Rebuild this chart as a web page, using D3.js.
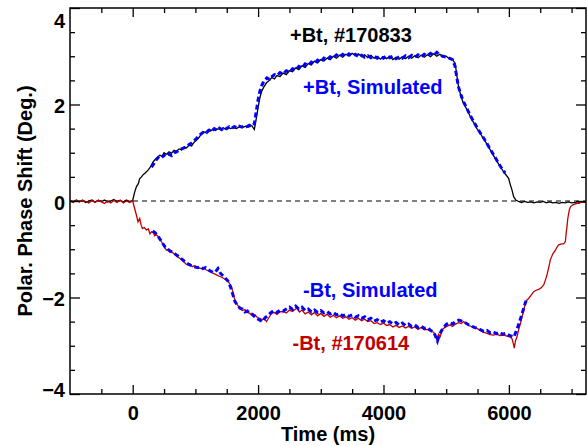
<!DOCTYPE html>
<html>
<head>
<meta charset="utf-8">
<script src="https://cdn.jsdelivr.net/npm/d3@7"></script>
<style>
  body { margin: 0; background: #fff; }
  text { font-family: "Liberation Sans", Arial, Helvetica, sans-serif; font-weight: bold; }
</style>
</head>
<body>
<div id="chart"></div>
<script>
// +Bt experiment, shot #170833 (time ms, phase shift deg)
const plusExp = [
  [-1000,0.01],[-950,-0.02],[-900,0.02],[-850,-0.01],[-800,0.01],[-750,-0.03],[-700,0.00],[-650,0.02],[-600,-0.02],[-550,0.01],
  [-500,-0.01],[-450,0.02],[-400,-0.02],[-350,0.00],[-300,0.03],[-250,-0.01],[-200,0.01],[-150,-0.02],[-100,0.02],[-50,-0.01],[0,0.01],
  [30,0.18],[60,0.30],[90,0.36],[110,0.46],[140,0.50],[170,0.55],[200,0.58],[245,0.64],[280,0.70],[320,0.80],[351,0.85],[390,0.90],
  [431,0.95],[470,0.93],[500,1.00],[538,0.97],[580,1.02],[620,0.99],[660,1.05],[698,1.03],[740,1.08],[780,1.06],[820,1.12],[858,1.10],
  [900,1.16],[940,1.14],[980,1.22],[1017,1.26],[1060,1.32],[1100,1.40],[1124,1.44],[1160,1.42],[1200,1.47],[1240,1.45],[1283,1.49],
  [1320,1.46],[1360,1.50],[1400,1.48],[1443,1.52],[1480,1.49],[1520,1.53],[1560,1.50],[1600,1.52],[1656,1.50],[1700,1.54],[1750,1.52],
  [1800,1.55],[1850,1.53],[1900,1.56],[1940,1.48],[1970,1.70],[2002,1.95],[2030,2.15],[2056,2.27],[2090,2.36],[2135,2.45],[2180,2.50],
  [2220,2.56],[2260,2.53],[2300,2.60],[2350,2.58],[2401,2.65],[2450,2.62],[2500,2.70],[2550,2.68],[2600,2.76],[2650,2.72],[2700,2.80],
  [2750,2.77],[2800,2.85],[2850,2.82],[2900,2.90],[2950,2.86],[3000,2.93],[3050,2.90],[3100,2.96],[3150,2.93],[3200,3.00],[3250,2.96],
  [3300,3.02],[3350,2.98],[3400,3.04],[3450,3.00],[3500,3.06],[3550,3.01],[3600,3.05],[3650,2.99],[3700,3.03],[3750,2.97],[3800,3.02],
  [3850,2.96],[3900,3.00],[3950,2.94],[4000,2.99],[4050,2.95],[4100,3.00],[4150,2.93],[4200,2.98],[4250,2.94],[4300,2.99],[4350,2.95],
  [4400,3.00],[4450,2.96],[4500,3.01],[4550,2.97],[4600,3.02],[4650,2.98],[4700,3.03],[4750,2.99],[4800,3.05],[4850,3.00],[4900,3.04],
  [4950,2.98],[5000,3.00],[5050,2.95],[5100,2.93],[5144,2.85],[5170,2.60],[5197,2.37],[5240,2.15],[5277,2.02],[5330,1.90],[5383,1.75],
  [5440,1.62],[5490,1.50],[5543,1.40],[5600,1.28],[5650,1.18],[5703,1.06],[5760,0.93],[5810,0.82],[5863,0.71],[5930,0.58],[5996,0.47],
  [6020,0.35],[6049,0.23],[6076,0.09],[6110,0.02],[6155,-0.01],[6200,-0.03],[6250,-0.01],[6300,-0.03],[6350,-0.02],[6400,-0.04],
  [6450,-0.02],[6500,-0.03],[6550,-0.01],[6600,-0.04],[6650,-0.02],[6700,-0.04],[6750,-0.03],[6800,-0.05],[6850,-0.03],[6900,-0.04],
  [6950,-0.02],[7000,-0.04],[7050,-0.03],[7100,-0.05],[7150,-0.03],[7230,-0.03]
];

// +Bt simulated
const plusSim = [
  [300,0.70],[340,0.78],[380,0.86],[420,0.92],[460,0.90],[500,0.95],[540,0.92],[580,0.97],[620,0.94],[660,1.00],[700,1.02],[740,1.05],
  [780,1.08],[820,1.10],[860,1.13],[900,1.17],[940,1.20],[980,1.25],[1020,1.30],[1060,1.36],[1100,1.40],[1140,1.44],[1180,1.42],
  [1220,1.47],[1260,1.44],[1300,1.50],[1340,1.47],[1380,1.51],[1420,1.48],[1460,1.53],[1500,1.50],[1540,1.54],[1580,1.51],[1620,1.54],
  [1660,1.52],[1700,1.55],[1740,1.53],[1780,1.56],[1820,1.54],[1860,1.57],[1900,1.55],[1940,1.60],[1970,1.85],[2000,2.10],[2030,2.28],
  [2060,2.40],[2100,2.50],[2140,2.55],[2180,2.52],[2220,2.58],[2260,2.62],[2300,2.60],[2350,2.66],[2400,2.63],[2450,2.70],[2500,2.67],
  [2550,2.74],[2600,2.72],[2650,2.79],[2700,2.76],[2750,2.84],[2800,2.81],[2850,2.88],[2900,2.85],[2950,2.92],[3000,2.89],[3050,2.96],
  [3100,2.93],[3150,2.99],[3200,2.96],[3250,3.03],[3300,2.99],[3350,3.04],[3400,3.00],[3450,3.05],[3500,3.01],[3550,3.04],[3600,2.99],
  [3650,3.02],[3700,2.98],[3750,3.01],[3800,2.97],[3850,3.00],[3900,2.96],[3950,3.00],[4000,2.96],[4050,3.01],[4100,2.97],[4150,3.00],
  [4200,2.95],[4250,2.99],[4300,2.96],[4350,3.01],[4400,2.97],[4450,3.02],[4500,2.98],[4550,3.03],[4600,2.99],[4650,3.04],[4700,3.01],
  [4750,3.06],[4800,3.02],[4850,3.08],[4900,3.02],[4950,3.00],[5000,2.98],[5050,2.96],[5100,2.93],[5140,2.80],[5170,2.55],[5200,2.35],
  [5240,2.18],[5280,2.05],[5330,1.92],[5380,1.78],[5440,1.64],[5490,1.53],[5540,1.42],[5600,1.30],[5650,1.19],[5700,1.08],[5760,0.95],
  [5810,0.84],[5860,0.73],[5900,0.65],[5940,0.58]
];

// -Bt experiment, shot #170614
const minusExp = [
  [-1000,0.00],[-950,-0.03],[-900,0.01],[-850,-0.02],[-800,0.02],[-750,-0.01],[-700,-0.04],[-650,0.01],[-600,-0.03],[-550,0.02],
  [-500,-0.02],[-450,-0.05],[-400,0.00],[-350,-0.04],[-300,0.01],[-250,-0.03],[-200,0.02],[-150,-0.04],[-100,0.00],[-50,-0.03],[0,0.00],
  [30,-0.15],[59,-0.29],[85,-0.43],[112,-0.36],[135,-0.50],[155,-0.57],[185,-0.55],[218,-0.60],[250,-0.58],[275,-0.68],[298,-0.64],
  [330,-0.66],[350,-0.72],[378,-0.70],[410,-0.74],[435,-0.80],[458,-0.84],[490,-0.92],[515,-0.97],[538,-1.02],[565,-1.00],[590,-1.06],
  [615,-1.04],[644,-1.08],[680,-1.12],[710,-1.15],[745,-1.18],[778,-1.22],[810,-1.25],[845,-1.30],[884,-1.33],[920,-1.32],[950,-1.36],
  [985,-1.34],[1017,-1.36],[1050,-1.38],[1090,-1.40],[1130,-1.39],[1177,-1.43],[1210,-1.45],[1250,-1.48],[1290,-1.50],[1337,-1.53],
  [1380,-1.56],[1420,-1.58],[1460,-1.61],[1496,-1.64],[1540,-1.70],[1576,-1.78],[1600,-1.90],[1629,-2.05],[1660,-2.14],[1709,-2.22],
  [1750,-2.27],[1790,-2.25],[1830,-2.31],[1869,-2.33],[1910,-2.38],[1950,-2.36],[1990,-2.42],[2029,-2.43],[2070,-2.46],[2100,-2.44],
  [2135,-2.50],[2170,-2.42],[2215,-2.33],[2260,-2.31],[2300,-2.35],[2350,-2.30],[2401,-2.29],[2450,-2.32],[2500,-2.26],[2550,-2.29],
  [2615,-2.22],[2660,-2.30],[2700,-2.26],[2750,-2.34],[2800,-2.30],[2850,-2.36],[2900,-2.31],[2950,-2.38],[3000,-2.33],[3050,-2.39],
  [3100,-2.35],[3150,-2.41],[3200,-2.37],[3250,-2.42],[3300,-2.38],[3350,-2.43],[3400,-2.40],[3450,-2.45],[3500,-2.42],[3550,-2.47],
  [3600,-2.43],[3650,-2.48],[3700,-2.45],[3750,-2.50],[3800,-2.48],[3850,-2.54],[3900,-2.52],[3950,-2.56],[4000,-2.53],[4050,-2.58],
  [4100,-2.56],[4150,-2.61],[4200,-2.58],[4250,-2.62],[4300,-2.59],[4350,-2.63],[4400,-2.60],[4450,-2.64],[4500,-2.61],[4550,-2.66],
  [4600,-2.62],[4650,-2.67],[4700,-2.66],[4750,-2.70],[4800,-2.72],[4824,-2.78],[4851,-2.86],[4880,-2.76],[4904,-2.81],[4940,-2.66],
  [4980,-2.62],[5011,-2.60],[5060,-2.57],[5100,-2.60],[5150,-2.55],[5200,-2.52],[5240,-2.54],[5277,-2.50],[5320,-2.55],[5360,-2.58],
  [5400,-2.60],[5450,-2.62],[5490,-2.64],[5540,-2.68],[5590,-2.72],[5640,-2.74],[5700,-2.77],[5756,-2.78],[5800,-2.76],[5860,-2.79],
  [5920,-2.78],[5969,-2.80],[6020,-2.82],[6049,-2.85],[6070,-2.95],[6086,-3.05],[6105,-2.90],[6129,-2.82],[6155,-2.67],[6182,-2.55],
  [6209,-2.40],[6235,-2.28],[6262,-2.12],[6289,-2.05],[6315,-2.02],[6355,-1.95],[6395,-1.88],[6435,-1.85],[6475,-1.83],[6515,-1.80],
  [6555,-1.74],[6580,-1.65],[6608,-1.53],[6635,-1.38],[6661,-1.22],[6700,-1.10],[6741,-1.02],[6770,-0.95],[6794,-0.91],[6840,-0.89],
  [6874,-0.89],[6901,-0.84],[6915,-0.65],[6927,-0.53],[6937,-0.39],[6950,-0.28],[6965,-0.18],[6981,-0.12],[7020,-0.08],[7087,-0.05],
  [7150,-0.03],[7230,-0.01]
];

// -Bt simulated
const minusSim = [
  [320,-0.62],[360,-0.66],[400,-0.72],[440,-0.80],[480,-0.88],[520,-0.96],[560,-1.00],[600,-1.04],[640,-1.06],[680,-1.10],[720,-1.14],
  [760,-1.18],[800,-1.22],[840,-1.27],[880,-1.30],[920,-1.33],[960,-1.35],[1000,-1.37],[1040,-1.38],[1080,-1.36],[1120,-1.40],
  [1160,-1.38],[1200,-1.42],[1240,-1.45],[1280,-1.48],[1320,-1.47],[1360,-1.40],[1400,-1.50],[1440,-1.55],[1480,-1.60],[1520,-1.66],
  [1560,-1.78],[1600,-1.95],[1630,-2.08],[1670,-2.16],[1710,-2.22],[1750,-2.24],[1790,-2.30],[1830,-2.28],[1870,-2.33],[1910,-2.35],
  [1950,-2.40],[1990,-2.44],[2030,-2.47],[2070,-2.50],[2110,-2.42],[2150,-2.38],[2200,-2.32],[2250,-2.27],[2300,-2.31],[2350,-2.26],
  [2400,-2.28],[2450,-2.24],[2500,-2.20],[2550,-2.25],[2600,-2.18],[2650,-2.24],[2700,-2.20],[2750,-2.27],[2800,-2.24],[2850,-2.30],
  [2900,-2.26],[2950,-2.31],[3000,-2.27],[3050,-2.32],[3100,-2.29],[3150,-2.34],[3200,-2.31],[3250,-2.36],[3300,-2.33],[3350,-2.38],
  [3400,-2.35],[3450,-2.39],[3500,-2.36],[3550,-2.41],[3600,-2.38],[3650,-2.43],[3700,-2.40],[3750,-2.46],[3800,-2.43],[3850,-2.49],
  [3900,-2.46],[3950,-2.51],[4000,-2.48],[4050,-2.53],[4100,-2.50],[4150,-2.55],[4200,-2.52],[4250,-2.57],[4300,-2.53],[4350,-2.58],
  [4400,-2.55],[4450,-2.60],[4500,-2.57],[4550,-2.62],[4600,-2.59],[4650,-2.64],[4700,-2.62],[4750,-2.68],[4800,-2.72],[4830,-2.80],
  [4860,-2.90],[4890,-2.78],[4920,-2.70],[4960,-2.62],[5000,-2.56],[5050,-2.52],[5100,-2.55],[5150,-2.50],[5200,-2.47],[5250,-2.49],
  [5300,-2.52],[5350,-2.56],[5400,-2.59],[5450,-2.62],[5500,-2.64],[5550,-2.67],[5600,-2.70],[5650,-2.68],[5700,-2.73],[5750,-2.71],
  [5800,-2.75],[5850,-2.72],[5900,-2.76],[5950,-2.74],[6000,-2.78],[6040,-2.80],[6080,-2.82],[6110,-2.72],[6140,-2.62],[6170,-2.50],
  [6200,-2.38],[6230,-2.25],[6260,-2.12],[6290,-2.02]
];

const xMajor = [0, 2000, 4000, 6000];
const yMajor = [-4, -2, 0, 2, 4];
const xMinor = d3.range(-500, 7001, 500);
const yMinor = d3.range(-3.5, 3.6, 0.5);

// annotation labels [text, time, value, colour]
const labels = [
  ["+Bt, #170833", 3480, 3.30, "#000000"],
  ["+Bt, Simulated", 3830, 2.22, "#0000ff"],
  ["-Bt, Simulated", 3790, -1.99, "#0000ff"],
  ["-Bt, #170614", 3480, -3.09, "#c00000"]
];

const W = 587, H = 446;
const margin = {top: 8, right: 1, bottom: 52, left: 70};
const iw = W - margin.left - margin.right, ih = H - margin.top - margin.bottom;

const svg = d3.select("#chart").append("svg")
  .attr("width", W).attr("height", H);

svg.append("defs").append("clipPath").attr("id", "clip")
  .append("rect").attr("width", iw).attr("height", ih);

const g = svg.append("g").attr("transform", `translate(${margin.left},${margin.top})`);

const x = d3.scaleLinear().domain([-1000, 7230]).range([0, iw]);
const y = d3.scaleLinear().domain([-4, 4]).range([ih, 0]);

const line = d3.line().x(d => x(d[0])).y(d => y(d[1]));

const plot = g.append("g").attr("clip-path", "url(#clip)");

// zero line
plot.append("line")
  .attr("x1", 0).attr("x2", iw).attr("y1", y(0)).attr("y2", y(0))
  .attr("stroke", "#000").attr("stroke-width", 1).attr("stroke-dasharray", "5,4");

plot.append("path").datum(plusExp).attr("d", line)
  .attr("fill", "none").attr("stroke", "#000").attr("stroke-width", 1.3);
plot.append("path").datum(minusExp).attr("d", line)
  .attr("fill", "none").attr("stroke", "#c00000").attr("stroke-width", 1.3);
plot.append("path").datum(plusSim).attr("d", line)
  .attr("fill", "none").attr("stroke", "#0000ff").attr("stroke-width", 3).attr("stroke-dasharray", "5,3");
plot.append("path").datum(minusSim).attr("d", line)
  .attr("fill", "none").attr("stroke", "#0000ff").attr("stroke-width", 3).attr("stroke-dasharray", "5,3");

// axes: major ticks with labels, minor ticks, mirrored on top/right
function styleAxis(sel) {
  sel.select(".domain").remove();
  sel.selectAll("line").attr("stroke", "#000").attr("stroke-width", 1.3);
  sel.selectAll("text").attr("font-size", 20).attr("fill", "#000")
    .style("font-family", "'Liberation Sans', Arial, sans-serif").style("font-weight", "bold");
}

g.append("g").attr("transform", `translate(0,${ih})`)
  .call(d3.axisBottom(x).tickValues(xMajor).tickSize(-9).tickPadding(12).tickFormat(d3.format("d")))
  .call(styleAxis);
g.append("g").attr("transform", `translate(0,${ih})`)
  .call(d3.axisBottom(x).tickValues(xMinor.filter(v => !xMajor.includes(v))).tickSize(-5).tickFormat(""))
  .call(styleAxis);
g.append("g")
  .call(d3.axisTop(x).tickValues(xMajor).tickSize(-9).tickFormat(""))
  .call(styleAxis);
g.append("g")
  .call(d3.axisTop(x).tickValues(xMinor.filter(v => !xMajor.includes(v))).tickSize(-5).tickFormat(""))
  .call(styleAxis);

const yAx = g.append("g")
  .call(d3.axisLeft(y).tickValues(yMajor).tickSize(-10).tickPadding(5).tickFormat(d3.format("d")))
  .call(styleAxis);
// keep end labels inside the frame, like the original
yAx.selectAll(".tick text").attr("dy", d => d === 4 ? "0.95em" : d === -4 ? "0.1em" : "0.4em");
g.append("g")
  .call(d3.axisLeft(y).tickValues(yMinor.filter(v => !yMajor.includes(v))).tickSize(-5).tickFormat(""))
  .call(styleAxis);
g.append("g").attr("transform", `translate(${iw},0)`)
  .call(d3.axisRight(y).tickValues(yMajor).tickSize(-10).tickFormat(""))
  .call(styleAxis);
g.append("g").attr("transform", `translate(${iw},0)`)
  .call(d3.axisRight(y).tickValues(yMinor.filter(v => !yMajor.includes(v))).tickSize(-5).tickFormat(""))
  .call(styleAxis);

// frame
g.append("rect").attr("width", iw).attr("height", ih)
  .attr("fill", "none").attr("stroke", "#000").attr("stroke-width", 1.5);

// annotations
g.selectAll(".lab").data(labels).join("text")
  .attr("class", "lab")
  .attr("x", d => x(d[1])).attr("y", d => y(d[2]))
  .attr("text-anchor", "middle")
  .attr("font-size", 20)
  .attr("fill", d => d[3])
  .text(d => d[0]);

// axis titles
svg.append("text")
  .attr("x", margin.left + iw / 2).attr("y", 441)
  .attr("text-anchor", "middle").attr("font-size", 20)
  .text("Time (ms)");

svg.append("text")
  .attr("transform", `translate(32,${margin.top + ih / 2}) rotate(-90)`)
  .attr("text-anchor", "middle").attr("font-size", 20)
  .text("Polar. Phase Shift (Deg.)");
</script>
</body>
</html>
